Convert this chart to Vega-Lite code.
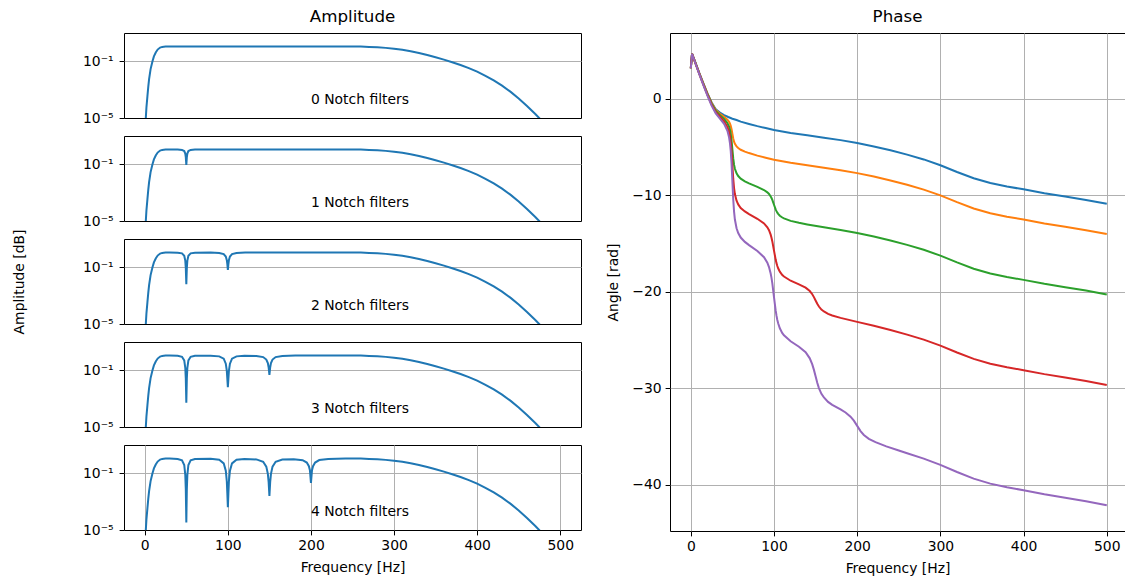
{
"$schema": "https://vega.github.io/schema/vega-lite/v6.json",
"padding": {"left": 11, "top": 8, "right": 0, "bottom": 0},
"config": {
  "font": "DejaVu Sans",
  "view": {"stroke": "#000000", "strokeWidth": 1},
  "axis": {"labelFont": "DejaVu Sans", "labelFontSize": 13.9, "labelColor": "#000000", "titleFont": "DejaVu Sans", "titleFontSize": 13.9, "titleFontWeight": "normal", "titleColor": "#000000", "tickColor": "#000000", "tickSize": 4.9, "tickWidth": 1, "labelPadding": 4, "domain": false, "gridColor": "#b0b0b0", "gridWidth": 1, "labelFlush": false},
  "title": {"font": "DejaVu Sans", "fontSize": 16.7, "fontWeight": "normal", "color": "#000000"}
},
"datasets": {
"amp": [
{"n":0,"f":1,"a":-5.5},{"n":0,"f":1.2,"a":-5.05},{"n":0,"f":2,"a":-4.25},{"n":0,"f":3.2,"a":-3.45},{"n":0,"f":4.2,"a":-2.8},{"n":0,"f":5.2,"a":-2.25},{"n":0,"f":7,"a":-1.55},{"n":0,"f":9.2,"a":-1.01},{"n":0,"f":11,"a":-0.65},{"n":0,"f":13.2,"a":-0.38},{"n":0,"f":15.5,"a":-0.17},{"n":0,"f":18.5,"a":-0.03},{"n":0,"f":21,"a":0.02},{"n":0,"f":25,"a":0.04},{"n":0,"f":30,"a":0.05},{"n":0,"f":250,"a":0.05},{"n":0,"f":260,"a":0.04},{"n":0,"f":270,"a":0.02},{"n":0,"f":280,"a":-0.01},{"n":0,"f":290,"a":-0.05},{"n":0,"f":300,"a":-0.11},{"n":0,"f":310,"a":-0.19},{"n":0,"f":320,"a":-0.29},{"n":0,"f":330,"a":-0.41},{"n":0,"f":340,"a":-0.55},{"n":0,"f":350,"a":-0.71},{"n":0,"f":360,"a":-0.88},{"n":0,"f":370,"a":-1.06},{"n":0,"f":380,"a":-1.26},{"n":0,"f":390,"a":-1.48},{"n":0,"f":400,"a":-1.73},{"n":0,"f":410,"a":-2.02},{"n":0,"f":420,"a":-2.35},{"n":0,"f":430,"a":-2.72},{"n":0,"f":440,"a":-3.14},{"n":0,"f":450,"a":-3.62},{"n":0,"f":460,"a":-4.15},{"n":0,"f":470,"a":-4.72},{"n":0,"f":476,"a":-5.08},{"n":0,"f":480,"a":-5.35},

{"n":1,"f":1,"a":-5.5},{"n":1,"f":1.2,"a":-5.05},{"n":1,"f":2,"a":-4.25},{"n":1,"f":3.2,"a":-3.45},{"n":1,"f":4.2,"a":-2.8},{"n":1,"f":5.2,"a":-2.25},{"n":1,"f":7,"a":-1.55},{"n":1,"f":9.2,"a":-1.01},{"n":1,"f":11,"a":-0.65},{"n":1,"f":13.2,"a":-0.38},{"n":1,"f":15.5,"a":-0.17},{"n":1,"f":18.5,"a":-0.03},{"n":1,"f":21,"a":0.02},{"n":1,"f":25,"a":0.04},{"n":1,"f":30,"a":0.05},{"n":1,"f":250,"a":0.05},{"n":1,"f":260,"a":0.04},{"n":1,"f":270,"a":0.02},{"n":1,"f":280,"a":-0.01},{"n":1,"f":290,"a":-0.05},{"n":1,"f":300,"a":-0.11},{"n":1,"f":310,"a":-0.19},{"n":1,"f":320,"a":-0.29},{"n":1,"f":330,"a":-0.41},{"n":1,"f":340,"a":-0.55},{"n":1,"f":350,"a":-0.71},{"n":1,"f":360,"a":-0.88},{"n":1,"f":370,"a":-1.06},{"n":1,"f":380,"a":-1.26},{"n":1,"f":390,"a":-1.48},{"n":1,"f":400,"a":-1.73},{"n":1,"f":410,"a":-2.02},{"n":1,"f":420,"a":-2.35},{"n":1,"f":430,"a":-2.72},{"n":1,"f":440,"a":-3.14},{"n":1,"f":450,"a":-3.62},{"n":1,"f":460,"a":-4.15},{"n":1,"f":470,"a":-4.72},{"n":1,"f":476,"a":-5.08},{"n":1,"f":480,"a":-5.35},
{"n":1,"f":39.6,"a":0.04},{"n":1,"f":44.8,"a":0.018},{"n":1,"f":47.5,"a":-0.065},{"n":1,"f":48.75,"a":-0.24},{"n":1,"f":49.375,"a":-0.49},{"n":1,"f":49.69,"a":-0.78},{"n":1,"f":50,"a":-1.05},{"n":1,"f":50.31,"a":-0.78},{"n":1,"f":50.625,"a":-0.49},{"n":1,"f":51.25,"a":-0.24},{"n":1,"f":52.5,"a":-0.065},{"n":1,"f":55.2,"a":0.018},{"n":1,"f":60.4,"a":0.04},

{"n":2,"f":1,"a":-5.5},{"n":2,"f":1.2,"a":-5.05},{"n":2,"f":2,"a":-4.25},{"n":2,"f":3.2,"a":-3.45},{"n":2,"f":4.2,"a":-2.8},{"n":2,"f":5.2,"a":-2.25},{"n":2,"f":7,"a":-1.55},{"n":2,"f":9.2,"a":-1.01},{"n":2,"f":11,"a":-0.65},{"n":2,"f":13.2,"a":-0.38},{"n":2,"f":15.5,"a":-0.17},{"n":2,"f":18.5,"a":-0.03},{"n":2,"f":21,"a":0.02},{"n":2,"f":25,"a":0.04},{"n":2,"f":30,"a":0.05},{"n":2,"f":250,"a":0.05},{"n":2,"f":260,"a":0.04},{"n":2,"f":270,"a":0.02},{"n":2,"f":280,"a":-0.01},{"n":2,"f":290,"a":-0.05},{"n":2,"f":300,"a":-0.11},{"n":2,"f":310,"a":-0.19},{"n":2,"f":320,"a":-0.29},{"n":2,"f":330,"a":-0.41},{"n":2,"f":340,"a":-0.55},{"n":2,"f":350,"a":-0.71},{"n":2,"f":360,"a":-0.88},{"n":2,"f":370,"a":-1.06},{"n":2,"f":380,"a":-1.26},{"n":2,"f":390,"a":-1.48},{"n":2,"f":400,"a":-1.73},{"n":2,"f":410,"a":-2.02},{"n":2,"f":420,"a":-2.35},{"n":2,"f":430,"a":-2.72},{"n":2,"f":440,"a":-3.14},{"n":2,"f":450,"a":-3.62},{"n":2,"f":460,"a":-4.15},{"n":2,"f":470,"a":-4.72},{"n":2,"f":476,"a":-5.08},{"n":2,"f":480,"a":-5.35},
{"n":2,"f":39.6,"a":0.033},{"n":2,"f":44.8,"a":-0.014},{"n":2,"f":47.5,"a":-0.18},{"n":2,"f":48.75,"a":-0.528},{"n":2,"f":49.375,"a":-1.034},{"n":2,"f":49.69,"a":-1.608},{"n":2,"f":50,"a":-2.2},{"n":2,"f":50.31,"a":-1.608},{"n":2,"f":50.625,"a":-1.034},{"n":2,"f":51.25,"a":-0.528},{"n":2,"f":52.5,"a":-0.18},{"n":2,"f":55.2,"a":-0.014},{"n":2,"f":60.4,"a":0.033},
{"n":2,"f":79.2,"a":0.04},{"n":2,"f":89.6,"a":0.018},{"n":2,"f":95,"a":-0.065},{"n":2,"f":97.5,"a":-0.24},{"n":2,"f":98.75,"a":-0.49},{"n":2,"f":99.375,"a":-0.78},{"n":2,"f":100,"a":-1.18},{"n":2,"f":100.625,"a":-0.78},{"n":2,"f":101.25,"a":-0.49},{"n":2,"f":102.5,"a":-0.24},{"n":2,"f":105,"a":-0.065},{"n":2,"f":110.4,"a":0.018},{"n":2,"f":120.8,"a":0.04},

{"n":3,"f":1,"a":-5.5},{"n":3,"f":1.2,"a":-5.05},{"n":3,"f":2,"a":-4.25},{"n":3,"f":3.2,"a":-3.45},{"n":3,"f":4.2,"a":-2.8},{"n":3,"f":5.2,"a":-2.25},{"n":3,"f":7,"a":-1.55},{"n":3,"f":9.2,"a":-1.01},{"n":3,"f":11,"a":-0.65},{"n":3,"f":13.2,"a":-0.38},{"n":3,"f":15.5,"a":-0.17},{"n":3,"f":18.5,"a":-0.03},{"n":3,"f":21,"a":0.02},{"n":3,"f":25,"a":0.04},{"n":3,"f":30,"a":0.05},{"n":3,"f":250,"a":0.05},{"n":3,"f":260,"a":0.04},{"n":3,"f":270,"a":0.02},{"n":3,"f":280,"a":-0.01},{"n":3,"f":290,"a":-0.05},{"n":3,"f":300,"a":-0.11},{"n":3,"f":310,"a":-0.19},{"n":3,"f":320,"a":-0.29},{"n":3,"f":330,"a":-0.41},{"n":3,"f":340,"a":-0.55},{"n":3,"f":350,"a":-0.71},{"n":3,"f":360,"a":-0.88},{"n":3,"f":370,"a":-1.06},{"n":3,"f":380,"a":-1.26},{"n":3,"f":390,"a":-1.48},{"n":3,"f":400,"a":-1.73},{"n":3,"f":410,"a":-2.02},{"n":3,"f":420,"a":-2.35},{"n":3,"f":430,"a":-2.72},{"n":3,"f":440,"a":-3.14},{"n":3,"f":450,"a":-3.62},{"n":3,"f":460,"a":-4.15},{"n":3,"f":470,"a":-4.72},{"n":3,"f":476,"a":-5.08},{"n":3,"f":480,"a":-5.35},
{"n":3,"f":39.6,"a":0.025},{"n":3,"f":44.8,"a":-0.046},{"n":3,"f":47.5,"a":-0.295},{"n":3,"f":48.75,"a":-0.817},{"n":3,"f":49.375,"a":-1.576},{"n":3,"f":49.69,"a":-2.437},{"n":3,"f":50,"a":-3.29},{"n":3,"f":50.31,"a":-2.437},{"n":3,"f":50.625,"a":-1.576},{"n":3,"f":51.25,"a":-0.817},{"n":3,"f":52.5,"a":-0.295},{"n":3,"f":55.2,"a":-0.046},{"n":3,"f":60.4,"a":0.025},
{"n":3,"f":79.2,"a":0.033},{"n":3,"f":89.6,"a":-0.014},{"n":3,"f":95,"a":-0.18},{"n":3,"f":97.5,"a":-0.528},{"n":3,"f":98.75,"a":-1.034},{"n":3,"f":99.375,"a":-1.608},{"n":3,"f":100,"a":-2.19},{"n":3,"f":100.625,"a":-1.608},{"n":3,"f":101.25,"a":-1.034},{"n":3,"f":102.5,"a":-0.528},{"n":3,"f":105,"a":-0.18},{"n":3,"f":110.4,"a":-0.014},
{"n":3,"f":120,"a":0.025},
{"n":3,"f":134.4,"a":0.018},{"n":3,"f":142.5,"a":-0.065},{"n":3,"f":146.25,"a":-0.24},{"n":3,"f":148.125,"a":-0.49},{"n":3,"f":149.06,"a":-0.78},{"n":3,"f":150,"a":-1.32},{"n":3,"f":150.94,"a":-0.78},{"n":3,"f":151.875,"a":-0.49},{"n":3,"f":153.75,"a":-0.24},{"n":3,"f":157.5,"a":-0.065},{"n":3,"f":165.6,"a":0.018},{"n":3,"f":181.2,"a":0.04},

{"n":4,"f":1,"a":-5.5},{"n":4,"f":1.2,"a":-5.05},{"n":4,"f":2,"a":-4.25},{"n":4,"f":3.2,"a":-3.45},{"n":4,"f":4.2,"a":-2.8},{"n":4,"f":5.2,"a":-2.25},{"n":4,"f":7,"a":-1.55},{"n":4,"f":9.2,"a":-1.01},{"n":4,"f":11,"a":-0.65},{"n":4,"f":13.2,"a":-0.38},{"n":4,"f":15.5,"a":-0.17},{"n":4,"f":18.5,"a":-0.03},{"n":4,"f":21,"a":0.02},{"n":4,"f":25,"a":0.04},{"n":4,"f":30,"a":0.05},{"n":4,"f":250,"a":0.05},{"n":4,"f":260,"a":0.04},{"n":4,"f":270,"a":0.02},{"n":4,"f":280,"a":-0.01},{"n":4,"f":290,"a":-0.05},{"n":4,"f":300,"a":-0.11},{"n":4,"f":310,"a":-0.19},{"n":4,"f":320,"a":-0.29},{"n":4,"f":330,"a":-0.41},{"n":4,"f":340,"a":-0.55},{"n":4,"f":350,"a":-0.71},{"n":4,"f":360,"a":-0.88},{"n":4,"f":370,"a":-1.06},{"n":4,"f":380,"a":-1.26},{"n":4,"f":390,"a":-1.48},{"n":4,"f":400,"a":-1.73},{"n":4,"f":410,"a":-2.02},{"n":4,"f":420,"a":-2.35},{"n":4,"f":430,"a":-2.72},{"n":4,"f":440,"a":-3.14},{"n":4,"f":450,"a":-3.62},{"n":4,"f":460,"a":-4.15},{"n":4,"f":470,"a":-4.72},{"n":4,"f":476,"a":-5.08},{"n":4,"f":480,"a":-5.35},
{"n":4,"f":39.6,"a":0.016},{"n":4,"f":44.8,"a":-0.078},{"n":4,"f":47.5,"a":-0.41},{"n":4,"f":48.75,"a":-1.106},{"n":4,"f":49.375,"a":-2.118},{"n":4,"f":49.69,"a":-3.266},{"n":4,"f":50,"a":-4.47},{"n":4,"f":50.31,"a":-3.266},{"n":4,"f":50.625,"a":-2.118},{"n":4,"f":51.25,"a":-1.106},{"n":4,"f":52.5,"a":-0.41},{"n":4,"f":55.2,"a":-0.078},{"n":4,"f":60.4,"a":0.016},
{"n":4,"f":79.2,"a":0.025},{"n":4,"f":89.6,"a":-0.046},{"n":4,"f":95,"a":-0.295},{"n":4,"f":97.5,"a":-0.817},{"n":4,"f":98.75,"a":-1.576},{"n":4,"f":99.375,"a":-2.437},{"n":4,"f":100,"a":-3.4},{"n":4,"f":100.625,"a":-2.437},{"n":4,"f":101.25,"a":-1.576},{"n":4,"f":102.5,"a":-0.817},{"n":4,"f":105,"a":-0.295},{"n":4,"f":110.4,"a":-0.046},
{"n":4,"f":120,"a":0.01},
{"n":4,"f":134.4,"a":-0.016},{"n":4,"f":142.5,"a":-0.18},{"n":4,"f":146.25,"a":-0.528},{"n":4,"f":148.125,"a":-1.034},{"n":4,"f":149.06,"a":-1.608},{"n":4,"f":150,"a":-2.6},{"n":4,"f":150.94,"a":-1.608},{"n":4,"f":151.875,"a":-1.034},{"n":4,"f":153.75,"a":-0.528},{"n":4,"f":157.5,"a":-0.18},{"n":4,"f":165.6,"a":-0.026},
{"n":4,"f":179.2,"a":0.0},
{"n":4,"f":190,"a":-0.075},{"n":4,"f":195,"a":-0.239},{"n":4,"f":197.5,"a":-0.492},{"n":4,"f":198.75,"a":-0.779},{"n":4,"f":200,"a":-1.67},{"n":4,"f":201.25,"a":-0.779},{"n":4,"f":202.5,"a":-0.492},{"n":4,"f":205,"a":-0.239},{"n":4,"f":210,"a":-0.065},{"n":4,"f":220.8,"a":0.018},{"n":4,"f":241.7,"a":0.04}
],
"phase": [
{"c":0,"f":0,"p":3.15},{"c":0,"f":1.5,"p":4.65},{"c":0,"f":5,"p":3.85},{"c":0,"f":10,"p":2.7},{"c":0,"f":15,"p":1.6},{"c":0,"f":20,"p":0.55},{"c":0,"f":25,"p":-0.4},{"c":0,"f":30,"p":-1.1},{"c":0,"f":35,"p":-1.45},{"c":0,"f":40,"p":-1.7},{"c":0,"f":45,"p":-1.9},{"c":0,"f":50,"p":-2.08},{"c":0,"f":55,"p":-2.22},{"c":0,"f":60,"p":-2.38},{"c":0,"f":70,"p":-2.62},{"c":0,"f":80,"p":-2.85},{"c":0,"f":90,"p":-3.05},{"c":0,"f":100,"p":-3.25},{"c":0,"f":120,"p":-3.55},{"c":0,"f":140,"p":-3.8},{"c":0,"f":160,"p":-4.05},{"c":0,"f":180,"p":-4.3},{"c":0,"f":200,"p":-4.6},{"c":0,"f":220,"p":-4.95},{"c":0,"f":240,"p":-5.35},{"c":0,"f":260,"p":-5.8},{"c":0,"f":280,"p":-6.3},{"c":0,"f":300,"p":-6.9},{"c":0,"f":320,"p":-7.6},{"c":0,"f":340,"p":-8.25},{"c":0,"f":360,"p":-8.75},{"c":0,"f":380,"p":-9.1},{"c":0,"f":400,"p":-9.4},{"c":0,"f":425,"p":-9.8},{"c":0,"f":450,"p":-10.15},{"c":0,"f":475,"p":-10.5},{"c":0,"f":500,"p":-10.9},

{"c":1,"f":0,"p":3.15},{"c":1,"f":1.5,"p":4.65},{"c":1,"f":5,"p":3.842},{"c":1,"f":10,"p":2.683},{"c":1,"f":15,"p":1.573},{"c":1,"f":20,"p":0.51},{"c":1,"f":25,"p":-0.456},{"c":1,"f":30,"p":-1.178},{"c":1,"f":35,"p":-1.564},{"c":1,"f":40,"p":-1.883},{"c":1,"f":44,"p":-2.175},{"c":1,"f":46,"p":-2.399},{"c":1,"f":47,"p":-2.564},{"c":1,"f":48,"p":-2.804},{"c":1,"f":49,"p":-3.164},{"c":1,"f":50,"p":-3.651},{"c":1,"f":51,"p":-4.122},{"c":1,"f":52,"p":-4.462},{"c":1,"f":53,"p":-4.685},{"c":1,"f":55,"p":-4.95},{"c":1,"f":57,"p":-5.118},{"c":1,"f":60,"p":-5.298},{"c":1,"f":65,"p":-5.486},{"c":1,"f":70,"p":-5.641},{"c":1,"f":80,"p":-5.906},{"c":1,"f":90,"p":-6.125},{"c":1,"f":100,"p":-6.336},{"c":1,"f":120,"p":-6.65},{"c":1,"f":140,"p":-6.908},{"c":1,"f":160,"p":-7.163},{"c":1,"f":180,"p":-7.417},{"c":1,"f":200,"p":-7.719},{"c":1,"f":220,"p":-8.071},{"c":1,"f":240,"p":-8.474},{"c":1,"f":260,"p":-8.925},{"c":1,"f":280,"p":-9.426},{"c":1,"f":300,"p":-10.027},{"c":1,"f":320,"p":-10.728},{"c":1,"f":340,"p":-11.379},{"c":1,"f":360,"p":-11.88},{"c":1,"f":380,"p":-12.23},{"c":1,"f":400,"p":-12.531},{"c":1,"f":425,"p":-12.932},{"c":1,"f":450,"p":-13.282},{"c":1,"f":475,"p":-13.633},{"c":1,"f":500,"p":-14.033},

{"c":2,"f":0,"p":3.15},{"c":2,"f":1.5,"p":4.644},{"c":2,"f":5,"p":3.829},{"c":2,"f":10,"p":2.657},{"c":2,"f":15,"p":1.532},{"c":2,"f":20,"p":0.453},{"c":2,"f":25,"p":-0.533},{"c":2,"f":30,"p":-1.284},{"c":2,"f":35,"p":-1.711},{"c":2,"f":40,"p":-2.106},{"c":2,"f":44,"p":-2.534},{"c":2,"f":46,"p":-2.91},{"c":2,"f":47,"p":-3.207},{"c":2,"f":48,"p":-3.651},{"c":2,"f":49,"p":-4.337},{"c":2,"f":50,"p":-5.277},{"c":2,"f":51,"p":-6.194},{"c":2,"f":52,"p":-6.848},{"c":2,"f":53,"p":-7.268},{"c":2,"f":55,"p":-7.745},{"c":2,"f":57,"p":-8.023},{"c":2,"f":60,"p":-8.294},{"c":2,"f":65,"p":-8.565},{"c":2,"f":70,"p":-8.775},{"c":2,"f":80,"p":-9.146},{"c":2,"f":88,"p":-9.468},{"c":2,"f":92,"p":-9.708},{"c":2,"f":94,"p":-9.882},{"c":2,"f":96,"p":-10.13},{"c":2,"f":97,"p":-10.296},{"c":2,"f":98,"p":-10.498},{"c":2,"f":100,"p":-10.993},{"c":2,"f":102,"p":-11.47},{"c":2,"f":103,"p":-11.66},{"c":2,"f":104,"p":-11.815},{"c":2,"f":105,"p":-11.94},{"c":2,"f":107,"p":-12.129},{"c":2,"f":110,"p":-12.318},{"c":2,"f":112,"p":-12.41},{"c":2,"f":120,"p":-12.667},{"c":2,"f":130,"p":-12.869},{"c":2,"f":140,"p":-13.036},{"c":2,"f":160,"p":-13.332},{"c":2,"f":180,"p":-13.608},{"c":2,"f":200,"p":-13.925},{"c":2,"f":220,"p":-14.286},{"c":2,"f":240,"p":-14.697},{"c":2,"f":260,"p":-15.154},{"c":2,"f":280,"p":-15.66},{"c":2,"f":300,"p":-16.265},{"c":2,"f":320,"p":-16.969},{"c":2,"f":340,"p":-17.623},{"c":2,"f":360,"p":-18.126},{"c":2,"f":380,"p":-18.479},{"c":2,"f":400,"p":-18.781},{"c":2,"f":425,"p":-19.184},{"c":2,"f":450,"p":-19.536},{"c":2,"f":475,"p":-19.889},{"c":2,"f":500,"p":-20.291},

{"c":3,"f":0,"p":3.15},{"c":3,"f":1.5,"p":4.639},{"c":3,"f":5,"p":3.814},{"c":3,"f":10,"p":2.626},{"c":3,"f":15,"p":1.484},{"c":3,"f":20,"p":0.385},{"c":3,"f":25,"p":-0.625},{"c":3,"f":30,"p":-1.406},{"c":3,"f":35,"p":-1.879},{"c":3,"f":40,"p":-2.353},{"c":3,"f":44,"p":-2.921},{"c":3,"f":46,"p":-3.45},{"c":3,"f":47,"p":-3.879},{"c":3,"f":48,"p":-4.529},{"c":3,"f":49,"p":-5.541},{"c":3,"f":50,"p":-6.935},{"c":3,"f":51,"p":-8.298},{"c":3,"f":52,"p":-9.266},{"c":3,"f":53,"p":-9.884},{"c":3,"f":55,"p":-10.576},{"c":3,"f":57,"p":-10.965},{"c":3,"f":60,"p":-11.33},{"c":3,"f":65,"p":-11.689},{"c":3,"f":70,"p":-11.959},{"c":3,"f":80,"p":-12.447},{"c":3,"f":88,"p":-12.929},{"c":3,"f":92,"p":-13.33},{"c":3,"f":94,"p":-13.64},{"c":3,"f":96,"p":-14.097},{"c":3,"f":97,"p":-14.411},{"c":3,"f":98,"p":-14.796},{"c":3,"f":100,"p":-15.75},{"c":3,"f":102,"p":-16.677},{"c":3,"f":103,"p":-17.045},{"c":3,"f":104,"p":-17.342},{"c":3,"f":105,"p":-17.579},{"c":3,"f":107,"p":-17.931},{"c":3,"f":110,"p":-18.273},{"c":3,"f":112,"p":-18.434},{"c":3,"f":120,"p":-18.868},{"c":3,"f":130,"p":-19.241},{"c":3,"f":138,"p":-19.588},{"c":3,"f":143,"p":-19.934},{"c":3,"f":146,"p":-20.266},{"c":3,"f":148,"p":-20.565},{"c":3,"f":150,"p":-20.91},{"c":3,"f":152,"p":-21.252},{"c":3,"f":154,"p":-21.54},{"c":3,"f":157,"p":-21.856},{"c":3,"f":160,"p":-22.05},{"c":3,"f":165,"p":-22.307},{"c":3,"f":170,"p":-22.473},{"c":3,"f":180,"p":-22.717},{"c":3,"f":200,"p":-23.13},{"c":3,"f":220,"p":-23.538},{"c":3,"f":240,"p":-23.976},{"c":3,"f":260,"p":-24.453},{"c":3,"f":280,"p":-24.973},{"c":3,"f":300,"p":-25.589},{"c":3,"f":320,"p":-26.302},{"c":3,"f":340,"p":-26.963},{"c":3,"f":360,"p":-27.472},{"c":3,"f":380,"p":-27.83},{"c":3,"f":400,"p":-28.137},{"c":3,"f":425,"p":-28.545},{"c":3,"f":450,"p":-28.901},{"c":3,"f":475,"p":-29.257},{"c":3,"f":500,"p":-29.662},

{"c":4,"f":0,"p":3.15},{"c":4,"f":1.5,"p":4.634},{"c":4,"f":5,"p":3.797},{"c":4,"f":10,"p":2.59},{"c":4,"f":15,"p":1.429},{"c":4,"f":20,"p":0.308},{"c":4,"f":25,"p":-0.728},{"c":4,"f":30,"p":-1.542},{"c":4,"f":35,"p":-2.062},{"c":4,"f":40,"p":-2.617},{"c":4,"f":44,"p":-3.327},{"c":4,"f":46,"p":-4.01},{"c":4,"f":47,"p":-4.572},{"c":4,"f":48,"p":-5.428},{"c":4,"f":49,"p":-6.767},{"c":4,"f":50,"p":-8.615},{"c":4,"f":51,"p":-10.425},{"c":4,"f":52,"p":-11.708},{"c":4,"f":53,"p":-12.524},{"c":4,"f":55,"p":-13.432},{"c":4,"f":57,"p":-13.933},{"c":4,"f":60,"p":-14.393},{"c":4,"f":65,"p":-14.843},{"c":4,"f":70,"p":-15.176},{"c":4,"f":80,"p":-15.788},{"c":4,"f":88,"p":-16.435},{"c":4,"f":92,"p":-17.001},{"c":4,"f":94,"p":-17.448},{"c":4,"f":96,"p":-18.117},{"c":4,"f":97,"p":-18.579},{"c":4,"f":98,"p":-19.148},{"c":4,"f":100,"p":-20.562},{"c":4,"f":102,"p":-21.942},{"c":4,"f":103,"p":-22.488},{"c":4,"f":104,"p":-22.928},{"c":4,"f":105,"p":-23.278},{"c":4,"f":107,"p":-23.796},{"c":4,"f":110,"p":-24.294},{"c":4,"f":112,"p":-24.526},{"c":4,"f":120,"p":-25.147},{"c":4,"f":130,"p":-25.707},{"c":4,"f":138,"p":-26.282},{"c":4,"f":143,"p":-26.908},{"c":4,"f":146,"p":-27.535},{"c":4,"f":148,"p":-28.107},{"c":4,"f":150,"p":-28.775},{"c":4,"f":152,"p":-29.436},{"c":4,"f":154,"p":-29.99},{"c":4,"f":157,"p":-30.591},{"c":4,"f":160,"p":-30.951},{"c":4,"f":165,"p":-31.424},{"c":4,"f":170,"p":-31.725},{"c":4,"f":180,"p":-32.203},{"c":4,"f":186,"p":-32.52},{"c":4,"f":192,"p":-32.947},{"c":4,"f":196,"p":-33.366},{"c":4,"f":200,"p":-33.906},{"c":4,"f":204,"p":-34.445},{"c":4,"f":208,"p":-34.85},{"c":4,"f":214,"p":-35.249},{"c":4,"f":222,"p":-35.6},{"c":4,"f":235,"p":-36.031},{"c":4,"f":250,"p":-36.463},{"c":4,"f":260,"p":-36.738},{"c":4,"f":280,"p":-37.306},{"c":4,"f":300,"p":-37.955},{"c":4,"f":320,"p":-38.691},{"c":4,"f":340,"p":-39.37},{"c":4,"f":360,"p":-39.893},{"c":4,"f":380,"p":-40.262},{"c":4,"f":400,"p":-40.579},{"c":4,"f":425,"p":-40.997},{"c":4,"f":450,"p":-41.361},{"c":4,"f":475,"p":-41.724},{"c":4,"f":500,"p":-42.135}
]
},
"bounds": "full",
"spacing": 23,
"resolve": {"scale": {"x": "independent", "y": "independent", "color": "independent"}},
"hconcat": [
{
  "bounds": "flush",
  "spacing": 18,
  "resolve": {"scale": {"x": "independent", "y": "independent"}},
  "vconcat": [
    {
      "width": 457, "height": 85,
      "title": {"text": "Amplitude", "frame": "group", "anchor": "middle", "baseline": "alphabetic", "offset": -6},
      "encoding": {
        "x": {"field": "f", "type": "quantitative", "scale": {"domain": [-25, 525], "nice": false, "zero": false}, "axis": null},
        "y": {"field": "a", "type": "quantitative", "scale": {"domain": [-5, 1], "nice": false, "zero": false}, "axis": {"values": [-5, -1], "labelExpr": "datum.value === -1 ? '10⁻¹' : '10⁻⁵'", "grid": true, "gridColor": {"condition": {"test": "datum.value === -5", "value": "transparent"}, "value": "#b0b0b0"}, "title": null, "labelPadding": 6}}
      },
      "layer": [
        {"data": {"name": "amp"}, "transform": [{"filter": "datum.n === 0"}], "mark": {"type": "line", "clip": true, "color": "#1f77b4", "strokeWidth": 2}},
        {"data": {"values": [{"f": 200, "a": -4, "t": "0 Notch filters"}]}, "mark": {"type": "text", "align": "left", "baseline": "alphabetic", "fontSize": 13.9, "font": "DejaVu Sans", "color": "#000000"}, "encoding": {"text": {"field": "t"}}}
      ]
    },
    {
      "width": 457, "height": 85,
      "encoding": {
        "x": {"field": "f", "type": "quantitative", "scale": {"domain": [-25, 525], "nice": false, "zero": false}, "axis": null},
        "y": {"field": "a", "type": "quantitative", "scale": {"domain": [-5, 1], "nice": false, "zero": false}, "axis": {"values": [-5, -1], "labelExpr": "datum.value === -1 ? '10⁻¹' : '10⁻⁵'", "grid": true, "gridColor": {"condition": {"test": "datum.value === -5", "value": "transparent"}, "value": "#b0b0b0"}, "title": null, "labelPadding": 6}}
      },
      "layer": [
        {"data": {"name": "amp"}, "transform": [{"filter": "datum.n === 1"}], "mark": {"type": "line", "clip": true, "color": "#1f77b4", "strokeWidth": 2}},
        {"data": {"values": [{"f": 200, "a": -4, "t": "1 Notch filters"}]}, "mark": {"type": "text", "align": "left", "baseline": "alphabetic", "fontSize": 13.9, "font": "DejaVu Sans", "color": "#000000"}, "encoding": {"text": {"field": "t"}}}
      ]
    },
    {
      "width": 457, "height": 85,
      "encoding": {
        "x": {"field": "f", "type": "quantitative", "scale": {"domain": [-25, 525], "nice": false, "zero": false}, "axis": null},
        "y": {"field": "a", "type": "quantitative", "scale": {"domain": [-5, 1], "nice": false, "zero": false}, "axis": {"values": [-5, -1], "labelExpr": "datum.value === -1 ? '10⁻¹' : '10⁻⁵'", "grid": true, "gridColor": {"condition": {"test": "datum.value === -5", "value": "transparent"}, "value": "#b0b0b0"}, "title": "Amplitude [dB]", "titleX": -105, "titleY": 42.5, "titleAngle": -90, "titleAlign": "center", "titleBaseline": "middle", "labelPadding": 6}}
      },
      "layer": [
        {"data": {"name": "amp"}, "transform": [{"filter": "datum.n === 2"}], "mark": {"type": "line", "clip": true, "color": "#1f77b4", "strokeWidth": 2}},
        {"data": {"values": [{"f": 200, "a": -4, "t": "2 Notch filters"}]}, "mark": {"type": "text", "align": "left", "baseline": "alphabetic", "fontSize": 13.9, "font": "DejaVu Sans", "color": "#000000"}, "encoding": {"text": {"field": "t"}}}
      ]
    },
    {
      "width": 457, "height": 85,
      "encoding": {
        "x": {"field": "f", "type": "quantitative", "scale": {"domain": [-25, 525], "nice": false, "zero": false}, "axis": null},
        "y": {"field": "a", "type": "quantitative", "scale": {"domain": [-5, 1], "nice": false, "zero": false}, "axis": {"values": [-5, -1], "labelExpr": "datum.value === -1 ? '10⁻¹' : '10⁻⁵'", "grid": true, "gridColor": {"condition": {"test": "datum.value === -5", "value": "transparent"}, "value": "#b0b0b0"}, "title": null, "labelPadding": 6}}
      },
      "layer": [
        {"data": {"name": "amp"}, "transform": [{"filter": "datum.n === 3"}], "mark": {"type": "line", "clip": true, "color": "#1f77b4", "strokeWidth": 2}},
        {"data": {"values": [{"f": 200, "a": -4, "t": "3 Notch filters"}]}, "mark": {"type": "text", "align": "left", "baseline": "alphabetic", "fontSize": 13.9, "font": "DejaVu Sans", "color": "#000000"}, "encoding": {"text": {"field": "t"}}}
      ]
    },
    {
      "width": 457, "height": 85,
      "encoding": {
        "x": {"field": "f", "type": "quantitative", "scale": {"domain": [-25, 525], "nice": false, "zero": false}, "axis": {"values": [0, 100, 200, 300, 400, 500], "grid": true, "title": "Frequency [Hz]", "titlePadding": 8}},
        "y": {"field": "a", "type": "quantitative", "scale": {"domain": [-5, 1], "nice": false, "zero": false}, "axis": {"values": [-5, -1], "labelExpr": "datum.value === -1 ? '10⁻¹' : '10⁻⁵'", "grid": true, "gridColor": {"condition": {"test": "datum.value === -5", "value": "transparent"}, "value": "#b0b0b0"}, "title": null, "labelPadding": 6}}
      },
      "layer": [
        {"data": {"name": "amp"}, "transform": [{"filter": "datum.n === 4"}], "mark": {"type": "line", "clip": true, "color": "#1f77b4", "strokeWidth": 2}},
        {"data": {"values": [{"f": 200, "a": -4, "t": "4 Notch filters"}]}, "mark": {"type": "text", "align": "left", "baseline": "alphabetic", "fontSize": 13.9, "font": "DejaVu Sans", "color": "#000000"}, "encoding": {"text": {"field": "t"}}}
      ]
    }
  ]
},
{
  "width": 455, "height": 498,
  "title": {"text": "Phase", "frame": "group", "anchor": "middle", "baseline": "alphabetic", "offset": -6},
  "data": {"name": "phase"},
  "mark": {"type": "line", "clip": true, "strokeWidth": 2},
  "encoding": {
    "x": {"field": "f", "type": "quantitative", "scale": {"domain": [-25, 521.9], "nice": false, "zero": false}, "axis": {"values": [0, 100, 200, 300, 400, 500], "grid": true, "title": "Frequency [Hz]", "titlePadding": 8}},
    "y": {"field": "p", "type": "quantitative", "scale": {"domain": [-44.8, 6.8], "nice": false, "zero": false}, "axis": {"values": [-40, -30, -20, -10, 0], "grid": true, "title": "Angle [rad]", "titleX": -57, "titleY": 249, "titleAngle": -90, "titleAlign": "center", "titleBaseline": "middle"}},
    "color": {"field": "c", "type": "nominal", "scale": {"domain": [0, 1, 2, 3, 4], "range": ["#1f77b4", "#ff7f0e", "#2ca02c", "#d62728", "#9467bd"]}, "legend": null}
  }
}
]
}
